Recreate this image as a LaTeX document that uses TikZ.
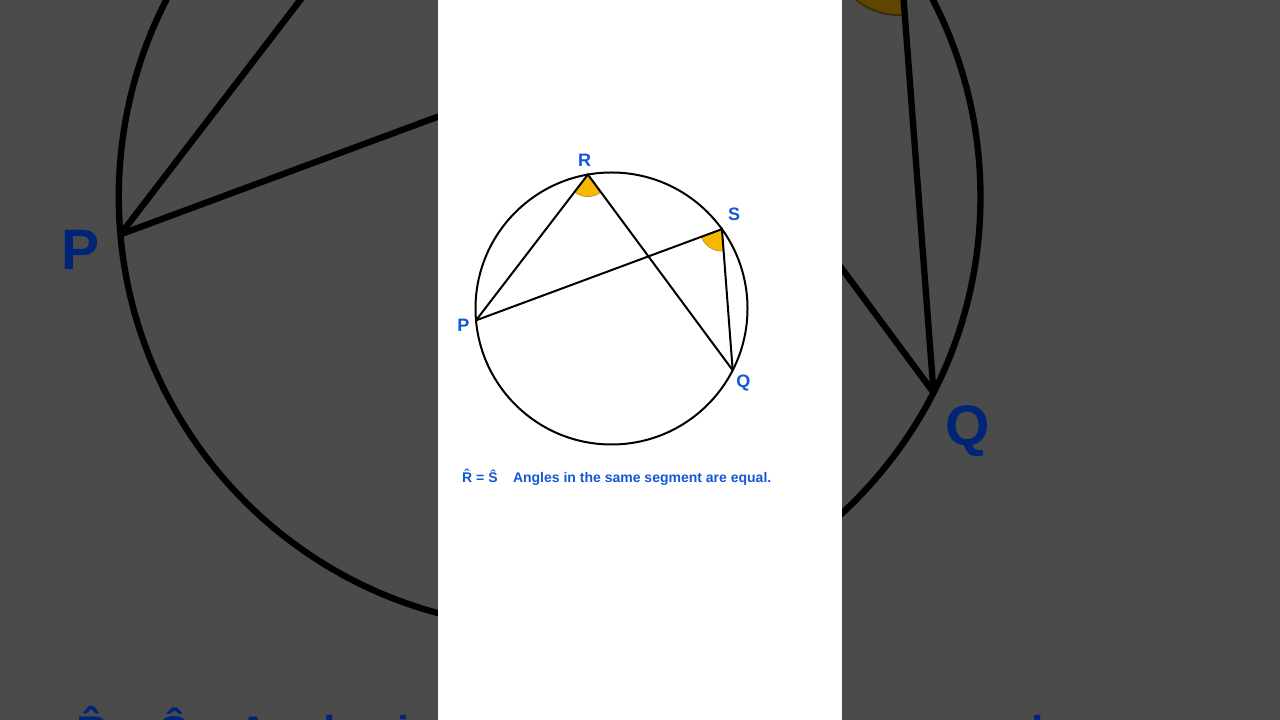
\documentclass[tikz,border=0pt]{standalone}
\usepackage{fontspec}
\setmainfont{Liberation Sans}
\usetikzlibrary{positioning,angles}

\definecolor{bggray}{RGB}{75,75,75}
\definecolor{lblblue}{RGB}{20,88,214}
\definecolor{markfill}{RGB}{247,184,0}
\definecolor{markline}{RGB}{190,140,40}
\definecolor{bgblue}{RGB}{0,36,118}
\definecolor{bgmarkfill}{RGB}{95,70,0}
\definecolor{bgmarkline}{RGB}{60,45,10}

\tikzset{
  chord/.style={black, line width=2pt},
  lbl/.style={font=\fontsize{18}{20}\selectfont\bfseries, text=lblblue, inner sep=0pt},
  note/.style={font=\fontsize{14}{16}\selectfont\bfseries, text=lblblue, inner sep=0pt},
  anglemark/.style={fill=markfill, draw=markline, line width=0.6pt, angle radius=22pt}
}

% circle with the two angles on chord PQ
\newcommand{\segmentfig}{%
  \coordinate (O) at (611.5,411.5);
  \coordinate (R) at ([shift={(100:136pt)}]O);
  \coordinate (S) at ([shift={(35.7:136pt)}]O);
  \coordinate (P) at ([shift={(185:136pt)}]O);
  \coordinate (Q) at ([shift={(-27:136pt)}]O);
  \pic[anglemark] {angle=P--R--Q};
  \pic[anglemark] {angle=P--S--Q};
  \draw[chord] (O) circle (136pt);
  \draw[chord] (P) -- (R) -- (Q);
  \draw[chord] (P) -- (S) -- (Q);
  \node[lbl] (lR) at ([shift={(100.3:151pt)}]O) {R};
  \node[lbl] (lS) at ([shift={(37.6:154.7pt)}]O) {S};
  \node[lbl] (lP) at ([shift={(186.5:149pt)}]O) {P};
  \node[lbl] (lQ) at ([shift={(-29.3:151.3pt)}]O) {Q};
  \node[note, anchor=base west] (eq) at (462,237.7) {\^{R} = \^{S}};
  \node[note, base right=15pt of eq] (rule) {Angles in the same segment are equal.};
}

\begin{document}
\begin{tikzpicture}[x=1pt, y=1pt]
  \useasboundingbox (0,0) rectangle (1280,720);
  \fill[bggray] (0,0) rectangle (1280,720);
  % enlarged dark copy behind
  \begin{scope}
    \clip (0,0) rectangle (1280,720);
    \begin{scope}[transform canvas={shift={(-1387.6pt,-780.5pt)}, scale=3.168}]
      \colorlet{lblblue}{bgblue}
      \colorlet{markfill}{bgmarkfill}
      \colorlet{markline}{bgmarkline}
      \segmentfig
    \end{scope}
  \end{scope}
  \fill[white] (438,0) rectangle (842,720);
  \segmentfig
\end{tikzpicture}
\end{document}
